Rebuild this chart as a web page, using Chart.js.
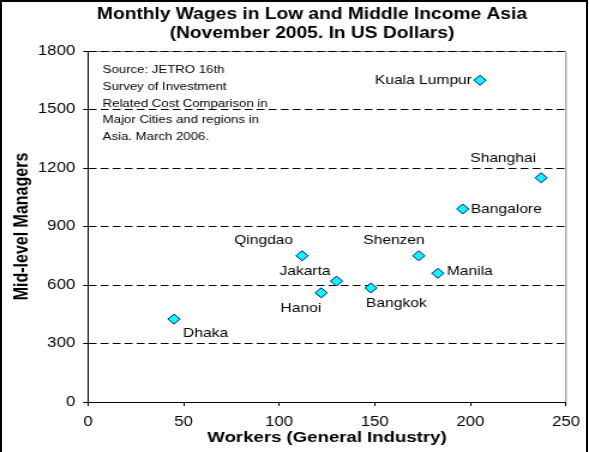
<!DOCTYPE html>
<html>
<head>
<meta charset="utf-8">
<script src="https://cdn.jsdelivr.net/npm/chart.js@4.4.0/dist/chart.umd.min.js"></script>
<style>
  html, body { margin: 0; padding: 0; background: #fff; }
  #wrap { position: relative; width: 589px; height: 452px; overflow: hidden; }
  #c { position: absolute; left: 0; top: 0; }
  #frame { position: absolute; left: 0; top: 0; width: 584px; height: 470px; border: 2px solid #000; pointer-events: none; }
</style>
</head>
<body>
<div id="wrap">
  <canvas id="c" width="491" height="452" style="width:589px;height:452px"></canvas>
  <div id="frame"></div>
</div>
<script>
// data
const cities = ['Kuala Lumpur', 'Shanghai', 'Bangalore', 'Shenzen', 'Manila',
                'Qingdao', 'Jakarta', 'Hanoi', 'Bangkok', 'Dhaka'];
const workers = [205, 237, 196, 173, 183, 112, 130, 122, 148, 45];
const managers = [1650, 1150, 990, 750, 660, 750, 620, 560, 585, 425];

const xTicks = [0, 50, 100, 150, 200, 250];
const yTicks = [0, 300, 600, 900, 1200, 1500, 1800];

const titleLines = ['Monthly Wages in Low and Middle Income Asia', '(November 2005. In US Dollars)'];
const sourceLines = ['Source: JETRO 16th', 'Survey of Investment', 'Related Cost Comparison in',
                     'Major Cities and regions in', 'Asia. March 2006.'];

// where each city name sits relative to its marker (align, dx, dy in page px)
const labelSpots = [
  ['right', -8, 0], ['right', -5, -19], ['left', 8, 0], ['right', 6, -15], ['left', 9, -2],
  ['right', -9, -15], ['right', -6, -10], ['right', 0, 16], ['left', -5, 15], ['left', 9, 14]
];

// the original picture is stretched sideways, so the canvas is drawn narrower and widened by css
const STRETCH = 589 / 491;
const FONT = "Arial, 'Liberation Sans', sans-serif";

Chart.defaults.font.family = FONT;
Chart.defaults.color = '#000';

const plotFrame = {
  id: 'plotFrame',
  beforeDraw(chart) {
    const {ctx, chartArea: a} = chart;
    ctx.save();
    ctx.strokeStyle = '#808080';
    ctx.lineWidth = 1;
    ctx.beginPath();
    ctx.moveTo(a.left, a.top + 0.5);
    ctx.lineTo(a.right, a.top + 0.5);
    ctx.lineTo(a.right, a.bottom);
    ctx.stroke();
    ctx.restore();
  }
};

const cityLabels = {
  id: 'cityLabels',
  afterDatasetsDraw(chart) {
    const ctx = chart.ctx;
    const pts = chart.getDatasetMeta(0).data;
    ctx.save();
    ctx.fillStyle = '#000';
    ctx.textBaseline = 'middle';
    ctx.font = '13px ' + FONT;
    pts.forEach((p, i) => {
      const [align, dx, dy] = labelSpots[i];
      ctx.textAlign = align;
      ctx.fillText(cities[i], p.x + dx / STRETCH, p.y + dy);
    });

    // source note, top left of the plot
    ctx.font = '11px ' + FONT;
    ctx.textAlign = 'left';
    const left = chart.chartArea.left + 12.3;
    sourceLines.forEach((t, i) => {
      ctx.fillText(t, left, chart.chartArea.top + 19 + i * 16.75);
    });

    // title, sits a bit right of the canvas middle in the original
    ctx.font = 'bold 16px ' + FONT;
    ctx.textAlign = 'center';
    titleLines.forEach((t, i) => {
      ctx.fillText(t, 312 / STRETCH, 14.5 + i * 19.2);
    });
    ctx.restore();
  }
};

const ctx = document.getElementById('c').getContext('2d');

new Chart(ctx, {
  type: 'scatter',
  data: {
    datasets: [{
      data: workers.map((w, i) => ({x: w, y: managers[i]})),
      pointStyle: 'rectRot',
      pointRadius: 5,
      pointHoverRadius: 5,
      backgroundColor: '#00FFFF',
      borderColor: '#000080',
      borderWidth: 1
    }]
  },
  options: {
    responsive: false,
    animation: false,
    devicePixelRatio: 1,
    layout: { padding: { left: 2, right: 18.5, top: 51, bottom: 0 } },
    plugins: {
      legend: { display: false },
      tooltip: { enabled: false },
      title: { display: false }
    },
    scales: {
      x: {
        type: 'linear',
        min: xTicks[0],
        max: xTicks[xTicks.length - 1],
        ticks: {
          stepSize: xTicks[1] - xTicks[0],
          color: '#000',
          font: { size: 14 },
          padding: 7.5,
          maxRotation: 0,
          callback: v => String(v)
        },
        grid: { display: true, drawOnChartArea: false, drawTicks: true, tickLength: 4, color: '#000', tickColor: '#000' },
        border: { display: true, color: '#000', width: 1 },
        title: {
          display: true,
          text: 'Workers (General Industry)',
          color: '#000',
          font: { size: 15.5, weight: 'bold', lineHeight: 1.2 },
          padding: { top: 0, bottom: 4.6 }
        },
        afterFit(scale) { scale.height = 50; }
      },
      y: {
        type: 'linear',
        min: yTicks[0],
        max: yTicks[yTicks.length - 1],
        ticks: {
          stepSize: yTicks[1] - yTicks[0],
          color: '#000',
          font: { size: 14 },
          padding: 6.6,
          callback: v => String(v)
        },
        grid: { color: '#000', tickColor: '#000', tickLength: 4, tickBorderDash: [] },
        border: { display: true, color: '#000', width: 1, dash: [6.5, 3.5] },
        title: {
          display: true,
          text: 'Mid-level Managers',
          color: '#000',
          font: { size: 16, weight: 'bold', lineHeight: 1.2 },
          padding: { top: 6.5, bottom: 0 }
        },
        afterFit(scale) { scale.width = 71.3; }
      }
    }
  },
  plugins: [plotFrame, cityLabels]
});
</script>
</body>
</html>
